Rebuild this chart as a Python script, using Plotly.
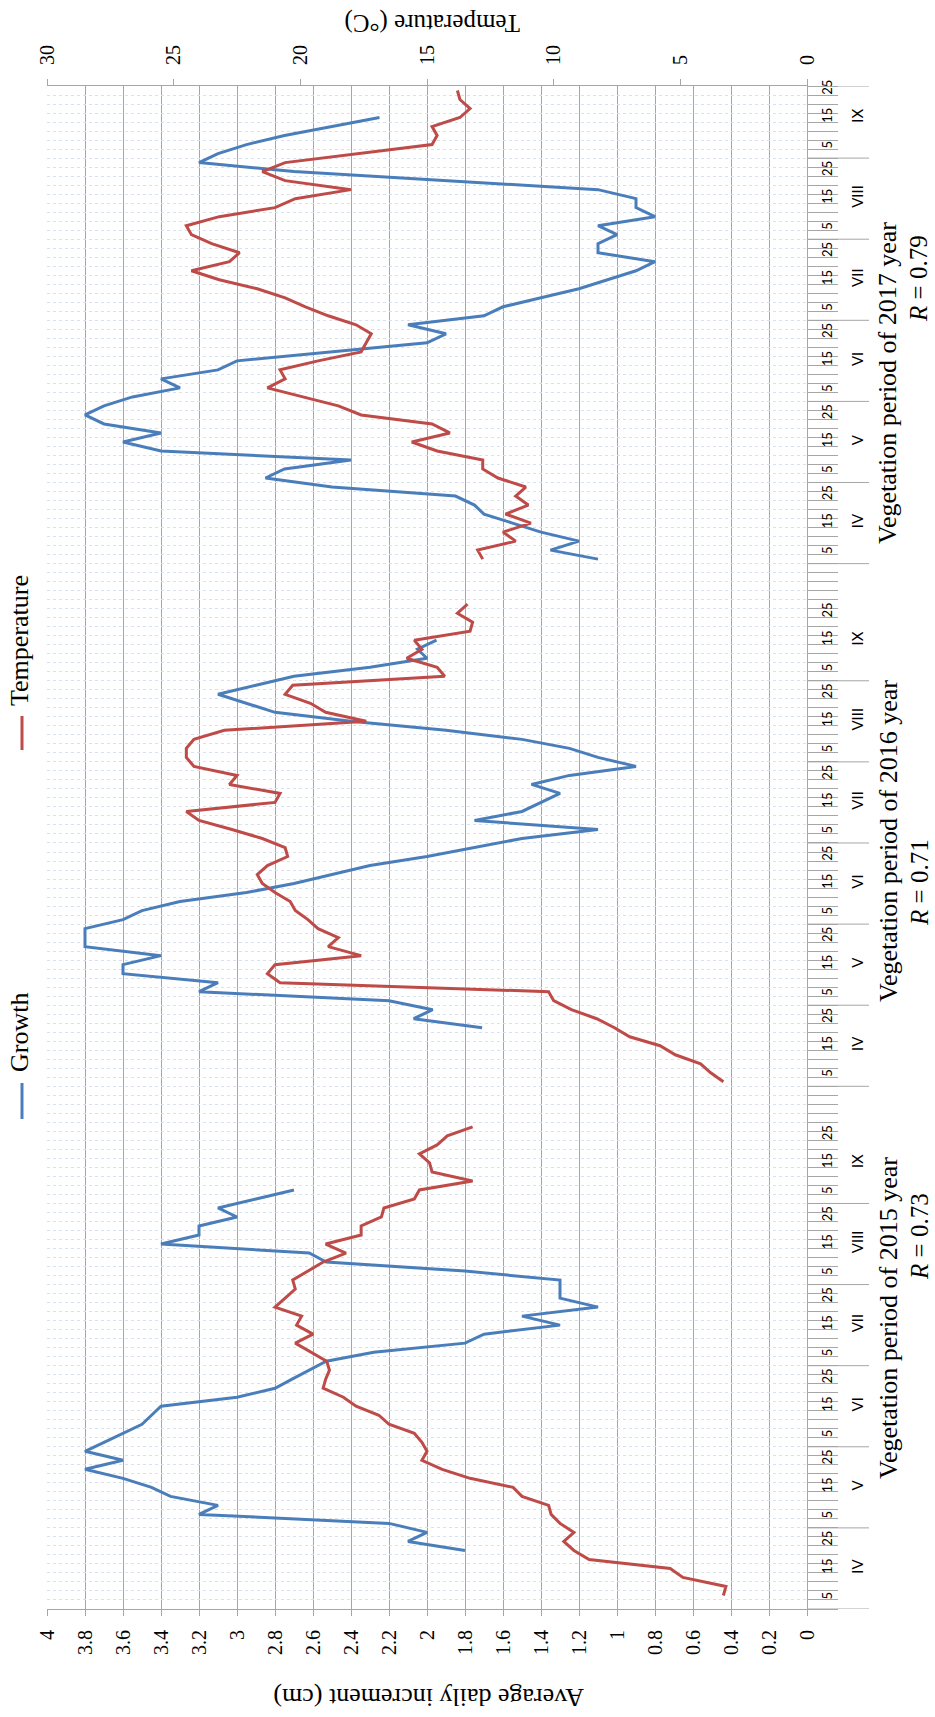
import plotly.graph_objects as go

# ---------------- data ----------------
years = ["2015", "2016", "2017"]
months = ["IV", "V", "VI", "VII", "VIII", "IX"]
day_labels = ["5", "15", "25"]
r_labels = ["<i>R</i> = 0.73", "<i>R</i> = 0.71", "<i>R</i> = 0.79"]
growth_ticks = [0, 0.2, 0.4, 0.6, 0.8, 1, 1.2, 1.4, 1.6, 1.8, 2, 2.2, 2.4, 2.6, 2.8, 3, 3.2, 3.4, 3.6, 3.8, 4]
temp_ticks = [0, 5, 10, 15, 20, 25, 30]

N = None
growth_2015 = [N, N, N, N, N, N, 1.8, 2.1, 2.0,
               2.2, 3.2, 3.1, 3.35, 3.45, 3.6, 3.8, 3.6, 3.8,
               3.7, 3.6, 3.5, 3.45, 3.4, 3.0, 2.8, 2.71, 2.62,
               2.53, 2.28, 1.8, 1.7, 1.3, 1.5, 1.1, 1.3, 1.3,
               1.3, 1.8, 2.53, 2.62, 3.4, 3.2, 3.2, 3.0, 3.1,
               2.9, 2.7, N, N, N, N, N, N, N]
temp_2015 = [N, 3.3, 3.2, 4.9, 5.4, 8.6, 9.2, 9.6, 9.2,
             9.75, 10.1, 10.2, 11.25, 11.6, 13.3, 14.4, 15.2, 15.0,
             15.2, 15.5, 16.5, 16.9, 17.8, 18.3, 19.1, 19.0, 18.85,
             18.96, 19.6, 20.2, 19.5, 20.15, 19.95, 21.0, 20.6, 20.2,
             20.3, 19.7, 19.1, 18.2, 19.0, 17.6, 17.6, 16.8, 16.7,
             15.5, 15.3, 13.2, 14.8, 14.9, 15.3, 14.6, 14.2, 13.2]
growth_2016 = [N, N, N, N, N, N, 1.71, 2.07, 1.97,
               2.2, 3.2, 3.1, 3.6, 3.6, 3.4, 3.8, 3.8, 3.8,
               3.6, 3.5, 3.3, 2.95, 2.7, 2.5, 2.3, 2.0, 1.75,
               1.5, 1.1, 1.75, 1.5, 1.4, 1.3, 1.45, 1.25, 0.9,
               1.1, 1.25, 1.5, 1.9, 2.4, 2.8, 2.95, 3.1, 2.9,
               2.7, 2.3, 2.0, 2.05, 1.95, N, N, N, N]
temp_2016 = [3.3, 3.8, 4.2, 5.2, 5.8, 7.0, 7.6, 8.3, 9.3,
             10.0, 10.2, 20.8, 21.3, 21.0, 17.6, 18.9, 18.5, 19.3,
             19.7, 20.2, 20.4, 21.0, 21.5, 21.7, 21.3, 20.5, 20.6,
             21.5, 22.7, 24.0, 24.5, 21.0, 20.8, 22.8, 22.5, 24.2,
             24.5, 24.5, 24.2, 23.0, 17.4, 19.0, 19.6, 20.6, 20.3,
             14.3, 14.6, 15.8, 15.2, 15.5, 13.3, 13.2, 13.8, 13.4]
growth_2017 = [1.1, 1.35, 1.2, 1.4, 1.55, 1.7, 1.75, 1.85, 2.5,
               2.85, 2.75, 2.4, 3.4, 3.6, 3.4, 3.7, 3.8, 3.7,
               3.55, 3.3, 3.4, 3.1, 3.0, 2.5, 2.0, 1.9, 2.1,
               1.7, 1.6, 1.4, 1.2, 1.05, 0.9, 0.8, 1.1, 1.1,
               1.0, 1.1, 0.8, 0.9, 0.9, 1.1, 1.9, 2.7, 3.2,
               3.1, 2.95, 2.75, 2.5, 2.25, N, N, N]
temp_2017 = [12.8, 13.0, 11.5, 12.0, 10.9, 11.9, 11.0, 11.5, 11.1,
             12.2, 12.8, 12.8, 14.6, 15.6, 14.1, 14.8, 17.6, 18.5,
             19.9, 21.3, 20.6, 20.8, 19.3, 17.6, 17.4, 17.2, 17.8,
             18.9, 19.8, 20.6, 21.7, 23.2, 24.3, 22.8, 22.4, 23.5,
             24.3, 24.5, 23.2, 21.0, 20.2, 18.0, 20.6, 21.5, 20.6,
             17.6, 14.8, 14.6, 14.8, 13.7, 13.3, 13.7, 13.8]

# ---------------- category layout ----------------
CPM = 9          # categories per month
GAP = 4          # blank categories after IX
YEAR_LEN = 6 * CPM + GAP
TOTAL = 2 * YEAR_LEN + len(temp_2017)

series = {
    "2015": (growth_2015, temp_2015),
    "2016": (growth_2016, temp_2016),
    "2017": (growth_2017, temp_2017),
}

BLUE = "#4a7ebb"
RED = "#be4b48"
GRID = "#a6a6a6"
SERIF = "Liberation Serif"
SANS = "Lato"

fig = go.Figure()
for yi, yr in enumerate(years):
    g, t = series[yr]
    start = yi * YEAR_LEN
    cats = [start + i for i in range(len(g))]
    fig.add_trace(go.Scatter(x=g, y=cats, mode="lines", line=dict(color=BLUE, width=3),
                             connectgaps=True, showlegend=False, xaxis="x", yaxis="y",
                             hoverinfo="skip"))
    fig.add_trace(go.Scatter(x=t, y=cats, mode="lines", line=dict(color=RED, width=3),
                             connectgaps=True, showlegend=False, xaxis="x2", yaxis="y",
                             hoverinfo="skip"))

L, R_, T, B = 47, 128, 86, 108
W, H = 935, 1717
PW = W - L - R_
PH = H - T - B


def px_x(px):
    return (px - L) / PW


def px_y(py):
    return (H - B - py) / PH


def note(x, y, text, size, angle, family=SERIF, xref="paper", yref="paper"):
    return dict(x=x, y=y, xref=xref, yref=yref, text=text, showarrow=False,
                textangle=angle, xanchor="center", yanchor="middle", borderpad=0,
                font=dict(family=family, size=size, color="#000"))


shapes = []
annotations = []
boundaries = []
for yi, yr in enumerate(years):
    start = yi * YEAR_LEN
    for mi, m in enumerate(months):
        m0 = start + mi * CPM
        if m0 > TOTAL:
            continue
        boundaries.append(m0 - 0.5)
        for d, off in zip(day_labels, [1.0, 4.2, 7.3]):
            if m0 + off < TOTAL - 0.5:
                annotations.append(note(px_x(827), m0 + off, d, 13, -90, SANS, yref="y"))
        annotations.append(note(px_x(857), m0 + 4.2, m, 15, -90, SANS, yref="y"))
boundaries.append(TOTAL - 0.5)
for b in boundaries:
    shapes.append(dict(type="line", xref="paper", yref="y", x0=1.0, x1=px_x(869),
                       y0=b, y1=b, line=dict(color=GRID, width=1)))

# legend (rotated)
shapes.append(dict(type="line", xref="paper", yref="paper", x0=px_x(22), x1=px_x(22),
                   y0=px_y(1083), y1=px_y(1119), line=dict(color=BLUE, width=3)))
shapes.append(dict(type="line", xref="paper", yref="paper", x0=px_x(22), x1=px_x(22),
                   y0=px_y(716), y1=px_y(750), line=dict(color=RED, width=3)))
annotations.append(note(px_x(19), px_y(1033), "Growth", 26, -90))
annotations.append(note(px_x(19), px_y(641), "Temperature", 26, -90))

# axis titles (upside down, as in the rotated original)
annotations.append(note(px_x(429), px_y(1697), "Average daily increment (cm)", 26, 180))
annotations.append(note(px_x(432), px_y(23), "Temperature (°C)", 25, 180))

# period captions
veg_y = [1318, 841, 383]
r_y = [1237, 883, 279]
for yr, vy, ry, rl in zip(years, veg_y, r_y, r_labels):
    annotations.append(note(px_x(888), px_y(vy), f"Vegetation period of {yr} year", 26, -90))
    annotations.append(note(px_x(919), px_y(ry), rl, 25, -90))

fig.update_layout(
    width=W, height=H,
    margin=dict(l=L, r=R_, t=T, b=B),
    paper_bgcolor="white", plot_bgcolor="white",
    showlegend=False, hovermode=False,
    xaxis=dict(range=[4, 0], tickvals=growth_ticks, ticktext=[f"{v:g}" for v in growth_ticks],
               tickangle=-90, ticks="outside", ticklen=6, tickcolor=GRID,
               ticklabelstandoff=6,
               showgrid=True, gridcolor=GRID, gridwidth=1, zeroline=False,
               showline=True, linecolor=GRID, linewidth=1,
               tickfont=dict(family=SERIF, size=20, color="#000")),
    xaxis2=dict(range=[30, 0], overlaying="x", side="top", tickvals=temp_ticks,
                tickangle=-90, ticks="outside", ticklen=6, tickcolor=GRID,
                ticklabelstandoff=10,
                showgrid=False, zeroline=False, showline=True, linecolor=GRID, linewidth=1,
                tickfont=dict(family=SERIF, size=20, color="#000")),
    yaxis=dict(range=[-0.5, TOTAL - 0.5], side="right",
               tickvals=[i - 0.5 for i in range(TOTAL + 1)], showticklabels=False,
               ticks="outside", ticklen=30, tickcolor=GRID,
               showgrid=True, gridcolor="#d6e2f1", gridwidth=1, griddash="dot",
               zeroline=False, showline=True, linecolor=GRID, linewidth=1, mirror=False),
    shapes=shapes, annotations=annotations,
)

fig.write_html("out.html", config={"displayModeBar": False, "staticPlot": True},
               post_script="document.body.style.margin='0';document.body.style.overflow='hidden';")
